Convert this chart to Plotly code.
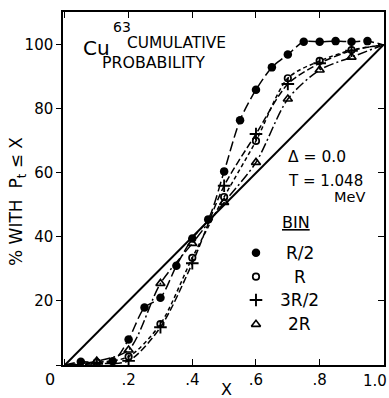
import plotly.graph_objects as go

# ---- data ----
x_r2 = [0.05, 0.15, 0.2, 0.25, 0.3, 0.35, 0.4, 0.45, 0.5, 0.55, 0.6, 0.65, 0.7, 0.75, 0.8, 0.85, 0.9, 0.95]
y_r2 = [1, 1.2, 8, 18, 21, 31, 39.5, 45.5, 60.5, 76.5, 86, 93, 97, 101, 101, 101.2, 101, 101.2]

x_r = [0.1, 0.2, 0.3, 0.4, 0.5, 0.6, 0.7, 0.8, 0.9]
y_r = [0.8, 2.6, 12.8, 33.5, 52.5, 70, 89.6, 95, 98.4]

x_3r2 = [0.1, 0.2, 0.3, 0.4, 0.5, 0.6, 0.7, 0.8, 0.9]
y_3r2 = [0.4, 1.3, 11.8, 31.8, 56, 72.2, 87.8, 94.3, 98.2]

x_2r = [0.1, 0.2, 0.3, 0.4, 0.5, 0.6, 0.7, 0.8, 0.9]
y_2r = [1.2, 4.7, 25.5, 38, 50.8, 63.3, 83.1, 92.2, 96.2]

# smooth curves drawn through the data (with end points at origin and (1,100))
cx_r2 = [0.0] + x_r2 + [1.0]
cy_r2 = [0.0] + y_r2 + [100]
cx_r = [0.0] + x_r + [1.0]
cy_r = [0.0] + y_r + [100]
cx_3r2 = [0.0] + x_3r2 + [1.0]
cy_3r2 = [0.0] + y_3r2 + [100]
cx_2r = [0.0] + x_2r + [1.0]
cy_2r = [0.0] + y_2r + [100]

diag_x = [0.0, 1.0]
diag_y = [0.0, 100.0]

xticks = [0, 0.2, 0.4, 0.6, 0.8, 1.0]
xticklabels = ["", ".2", ".4", ".6", ".8", ""]
xlast_label = "1.0"
yticks = [0, 20, 40, 60, 80, 100]
yticklabels = ["", "20", "40", "60", "80", "100"]

legend_names = ["R/2", "R", "3R/2", "2R"]
legend_y = [35.1, 27.6, 20.3, 12.7]

FONT = "DejaVu Sans"
K = "black"

fig = go.Figure()

fig.add_trace(go.Scatter(x=diag_x, y=diag_y, mode="lines",
                         line=dict(color=K, width=2), hoverinfo="skip"))

curves = [
    (cx_r2, cy_r2, "10px,4px"),
    (cx_r, cy_r, "4px,3px"),
    (cx_3r2, cy_3r2, "7px,3px"),
    (cx_2r, cy_2r, "10px,3px,2px,3px"),
]
for cx, cy, dash in curves:
    fig.add_trace(go.Scatter(x=cx, y=cy, mode="lines",
                             line=dict(color=K, width=1.5, dash=dash, shape="spline", smoothing=0.8),
                             hoverinfo="skip"))

SYM_2R = dict(symbol="triangle-up-open", size=8, color=K, line=dict(width=1.6, color=K))
SYM_3R2 = dict(symbol="cross-thin", size=9, color=K, line=dict(width=1.9, color=K))
SYM_R = dict(symbol="circle-open", size=6.5, color=K, line=dict(width=1.7, color=K))
SYM_R2 = dict(symbol="circle", size=8.5, color=K, line=dict(width=0))

fig.add_trace(go.Scatter(x=x_2r, y=y_2r, mode="markers", marker=SYM_2R))
fig.add_trace(go.Scatter(x=x_3r2, y=y_3r2, mode="markers", marker=SYM_3R2))
fig.add_trace(go.Scatter(x=x_r, y=y_r, mode="markers", marker=SYM_R))
fig.add_trace(go.Scatter(x=x_r2, y=y_r2, mode="markers", marker=SYM_R2))

# legend (markers + labels inside the plot)
leg_syms = [SYM_R2, SYM_R, SYM_3R2, SYM_2R]
for s, yy, name in zip(leg_syms, legend_y, legend_names):
    fig.add_trace(go.Scatter(x=[0.6], y=[yy], mode="markers", marker=s, hoverinfo="skip"))
    fig.add_annotation(x=0.737, y=yy, text=name, showarrow=False, xanchor="center", yanchor="middle",
                       font=dict(family=FONT, size=17, color=K))

ann = [
    dict(x=0.05, y=99.0, text="Cu", size=20, xanchor="left"),
    dict(x=0.145, y=105.5, text="63", size=14, xanchor="left"),
    dict(x=0.19, y=100.6, text="CUMULATIVE", size=15.4, xanchor="left"),
    dict(x=0.11, y=94.4, text="PROBABILITY", size=15.8, xanchor="left"),
    dict(x=0.695, y=65.0, text="Δ = 0.0", size=15.5, xanchor="left"),
    dict(x=0.695, y=57.5, text="T = 1.048", size=15, xanchor="left"),
    dict(x=0.84, y=52.6, text="MeV", size=14.5, xanchor="left"),
    dict(x=0.675, y=44.5, text="<u>BIN</u>", size=16, xanchor="left"),
]
for a in ann:
    fig.add_annotation(x=a["x"], y=a["y"], text=a["text"], showarrow=False, xanchor=a["xanchor"],
                       yanchor="middle", font=dict(family=FONT, size=a["size"], color=K))

# last x tick label (kept inside the page like in the reference)
fig.add_annotation(xref="paper", yref="paper", x=1.0, y=-0.046, xshift=5, text=xlast_label,
                   showarrow=False, xanchor="right", yanchor="middle",
                   font=dict(family=FONT, size=15, color=K))
# shared origin label, axis titles
fig.add_annotation(xref="paper", yref="paper", x=-0.04, y=-0.04, text="0", showarrow=False,
                   xanchor="center", yanchor="middle", font=dict(family=FONT, size=16, color=K))
fig.add_annotation(xref="paper", yref="paper", x=0.51, y=-0.068, text="X", showarrow=False,
                   xanchor="center", yanchor="middle", font=dict(family=FONT, size=16, color=K))
fig.add_annotation(xref="paper", yref="paper", x=-0.14, y=0.462, text="% WITH  P<sub>t</sub> ≤ X",
                   textangle=-90, showarrow=False, xanchor="center", yanchor="middle",
                   font=dict(family=FONT, size=17, color=K))

axis_common = dict(showgrid=False, zeroline=False, linecolor=K, linewidth=1.5,
                   tickcolor=K, tickwidth=1.2, tickfont=dict(family=FONT, size=15, color=K))

XR = [-0.006, 1.002]
YR = [0, 110.3]
fig.update_layout(
    width=389, height=398,
    margin=dict(l=63, r=5, t=12, b=33),
    paper_bgcolor="white", plot_bgcolor="white",
    showlegend=False,
    xaxis=dict(range=XR, tickvals=xticks, ticktext=xticklabels,
               ticks="inside", ticklen=6, showline=True, **axis_common),
    yaxis=dict(range=YR, tickvals=yticks, ticktext=yticklabels,
               ticks="outside", ticklen=5, showline=True, **axis_common),
    xaxis2=dict(range=XR, overlaying="x", side="top", tickvals=xticks,
                showticklabels=False, ticks="inside", ticklen=6, showline=True, **axis_common),
    yaxis2=dict(range=YR, overlaying="y", side="right", tickvals=yticks,
                showticklabels=False, ticks="inside", ticklen=6, showline=True, **axis_common),
)
# invisible trace to activate the mirrored axes
fig.add_trace(go.Scatter(x=[0.5], y=[50], xaxis="x2", yaxis="y2", mode="markers",
                         marker=dict(opacity=0), hoverinfo="skip"))

fig.write_html("out.html")
